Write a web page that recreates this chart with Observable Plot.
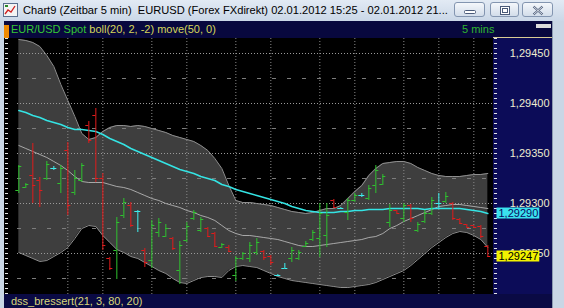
<!DOCTYPE html>
<html><head><meta charset="utf-8">
<script src="https://cdn.jsdelivr.net/npm/d3@7"></script>
<script src="https://cdn.jsdelivr.net/npm/@observablehq/plot@0.6"></script>
<style>
html,body{margin:0;padding:0;background:#c9d6e5;}
#win{position:relative;width:564px;height:308px;overflow:hidden;background:#c9d6e5;font-family:"Liberation Sans",Arial,sans-serif;}
#title{position:absolute;left:0;top:0;width:564px;height:21px;background:linear-gradient(#e2eaf4,#cad7e7);}
#title .txt{position:absolute;left:23px;top:3px;font-size:12px;line-height:14px;color:#000;white-space:pre;font-family:"Liberation Sans",Arial,sans-serif;}
#icon{position:absolute;left:3px;top:3px;width:15px;height:14px;}
.btn{position:absolute;top:2px;height:15px;border:1px solid #8395b0;border-radius:3px;background:linear-gradient(#f4f7fb,#d3ddea);box-sizing:border-box;}
.btn svg{position:absolute;left:0;top:0;}
#hdr{position:absolute;left:4px;top:21px;width:548px;height:17px;background:#08083e;}
#hdr .t{position:absolute;top:2px;font-size:11px;line-height:13px;white-space:pre;}
#plotbg{position:absolute;left:4px;top:38px;width:489px;height:256px;background:#000;}
#panel{position:absolute;left:493px;top:37px;width:59px;height:257px;background:#0c0c58;border-top:1px solid #d9cc93;box-sizing:border-box;}
#chart{position:absolute;left:4px;top:38px;}
#foot{position:absolute;left:4px;top:294px;width:548px;height:14px;background:#0a0a44;}
#foot .t{position:absolute;left:7px;top:1px;font-size:11px;line-height:13px;color:#d9d67a;white-space:pre;}
#rb{position:absolute;left:552px;top:21px;width:1px;height:287px;background:#8a9ab0;}
</style></head>
<body>
<div id="win">
  <div id="title">
    <svg id="icon" width="15" height="14"><rect x="0.5" y="0.5" width="14" height="13" fill="#f4f4f4" stroke="#5a6f8f"/><polyline points="2,11 5,7 8,9 12,3" fill="none" stroke="#d02020" stroke-width="1.3"/><rect x="2" y="2" width="3" height="2" fill="#2a8a2a"/></svg>
    <div class="txt">Chart9 (Zeitbar 5 min)  EURUSD (Forex FXdirekt) 02.01.2012 15:25 - 02.01.2012 21...</div>
    <div class="btn" style="left:454px;width:31px;"><svg width="31" height="15"><rect x="9.5" y="7.5" width="11" height="3" rx="1" fill="#fff" stroke="#4a5a78"/></svg></div>
    <div class="btn" style="left:490px;width:29px;"><svg width="29" height="15"><rect x="9.5" y="3.5" width="9" height="8" fill="#fff" stroke="#4a5a78"/><rect x="11.5" y="5.5" width="5" height="4" fill="none" stroke="#4a5a78"/></svg></div>
    <div class="btn" style="left:522px;width:31px;"><svg width="31" height="15"><path d="M10.5,3.5 L19.5,11.5 M19.5,3.5 L10.5,11.5" stroke="#4a5a78" stroke-width="2.2"/><path d="M10.5,3.5 L19.5,11.5 M19.5,3.5 L10.5,11.5" stroke="#fff" stroke-width="0.8"/></svg></div>
  </div>
  <div id="hdr">
    <div style="position:absolute;left:0;top:4px;width:5px;height:13px;background:#f08a00;"></div>
    <div class="t" style="left:7px;"><span style="color:#35c735;">EUR/USD Spot</span> <span style="color:#d6d65a;">boll(20, 2, -2) move(50, 0)</span></div>
    <div class="t" style="left:458px;color:#2fb52f;">5 mins</div>
    <div style="position:absolute;left:532px;top:3px;width:15px;height:4px;background:#dcdcdc;"></div>
  </div>
  <div id="plotbg"></div>
  <div id="panel"></div>
  <div id="chart"></div>
  <div id="foot"><div class="t">dss_bressert(21, 3, 80, 20)</div></div>
  <div id="rb"></div>
</div>
<script>
// ---- data: EURUSD 5-min bars, 02.01.2012 ----
const open  = [1.29313,1.29316,1.29328,1.29323,1.29325,1.29335,1.29320,1.29353,1.29311,1.29323,1.29378,1.29388,1.29325,1.29245,1.29253,1.29288,1.29298,1.29292,1.29253,1.29243,1.29271,1.29267,1.29265,1.29233,1.29263,1.29285,1.29273,1.29275,1.29270,1.29256,1.29256,1.29228,1.29245,1.29245,1.29251,1.29252,1.29247,1.29228,1.29235,1.29245,1.29245,1.29257,1.29264,1.29265,1.29268,1.29303,1.29295,1.29291,1.29303,1.29308,1.29305,1.29318,1.29319,1.29281,1.29293,1.29285,1.29298,1.29273,1.29282,1.29290,1.29300,1.29302,1.29300,1.29284,1.29279,1.29278,1.29277,1.29257];
const high  = [1.29338,1.29320,1.29360,1.29326,1.29342,1.29337,1.29338,1.29361,1.29333,1.29340,1.29382,1.29395,1.29330,1.29246,1.29286,1.29305,1.29301,1.29293,1.29255,1.29283,1.29285,1.29279,1.29266,1.29262,1.29281,1.29293,1.29286,1.29276,1.29271,1.29260,1.29258,1.29247,1.29251,1.29261,1.29265,1.29253,1.29248,1.29229,1.29240,1.29256,1.29253,1.29262,1.29273,1.29300,1.29300,1.29304,1.29296,1.29305,1.29310,1.29310,1.29318,1.29338,1.29329,1.29299,1.29293,1.29300,1.29299,1.29281,1.29293,1.29306,1.29310,1.29311,1.29301,1.29285,1.29279,1.29278,1.29278,1.29258];
const low   = [1.29310,1.29315,1.29300,1.29296,1.29323,1.29333,1.29310,1.29288,1.29308,1.29321,1.29360,1.29321,1.29253,1.29233,1.29224,1.29285,1.29276,1.29271,1.29236,1.29235,1.29266,1.29266,1.29253,1.29219,1.29261,1.29283,1.29271,1.29266,1.29256,1.29255,1.29251,1.29222,1.29243,1.29241,1.29248,1.29243,1.29238,1.29227,1.29235,1.29241,1.29243,1.29256,1.29262,1.29246,1.29256,1.29295,1.29294,1.29283,1.29301,1.29306,1.29303,1.29310,1.29318,1.29276,1.29290,1.29281,1.29281,1.29271,1.29280,1.29288,1.29295,1.29300,1.29283,1.29279,1.29276,1.29276,1.29265,1.29246];
const close = [1.29337,1.29319,1.29318,1.29313,1.29339,1.29335,1.29335,1.29298,1.29325,1.29338,1.29363,1.29325,1.29258,1.29235,1.29281,1.29301,1.29278,1.29292,1.29241,1.29278,1.29281,1.29275,1.29255,1.29258,1.29277,1.29291,1.29284,1.29267,1.29257,1.29259,1.29252,1.29245,1.29250,1.29258,1.29261,1.29246,1.29241,1.29228,1.29235,1.29253,1.29251,1.29260,1.29271,1.29290,1.29288,1.29296,1.29295,1.29303,1.29308,1.29308,1.29315,1.29333,1.29327,1.29293,1.29290,1.29298,1.29285,1.29279,1.29290,1.29303,1.29300,1.29307,1.29285,1.29280,1.29276,1.29276,1.29267,1.29247];
// boll(20, 2, -2)
const bollUpper  = [1.29464,1.29463,1.29461,1.29457,1.29448,1.29437,1.29419,1.29403,1.29387,1.29370,1.29364,1.29366,1.29372,1.29376,1.29378,1.29378,1.29377,1.29378,1.29377,1.29375,1.29373,1.29371,1.29368,1.29366,1.29364,1.29362,1.29358,1.29353,1.29345,1.29335,1.29318,1.29303,1.29301,1.29301,1.29300,1.29299,1.29298,1.29296,1.29294,1.29292,1.29291,1.29290,1.29291,1.29293,1.29295,1.29295,1.29298,1.29305,1.29312,1.29318,1.29328,1.29335,1.29340,1.29341,1.29342,1.29342,1.29340,1.29336,1.29333,1.29330,1.29328,1.29327,1.29327,1.29327,1.29328,1.29329,1.29329,1.29330];
const bollMiddle = [1.29358,1.29355,1.29352,1.29349,1.29346,1.29342,1.29338,1.29333,1.29327,1.29322,1.29321,1.29321,1.29321,1.29319,1.29317,1.29316,1.29314,1.29311,1.29308,1.29305,1.29303,1.29300,1.29298,1.29296,1.29293,1.29291,1.29288,1.29286,1.29283,1.29278,1.29273,1.29270,1.29268,1.29268,1.29267,1.29266,1.29265,1.29264,1.29262,1.29260,1.29258,1.29257,1.29257,1.29258,1.29259,1.29260,1.29261,1.29262,1.29263,1.29264,1.29266,1.29267,1.29270,1.29275,1.29278,1.29282,1.29285,1.29288,1.29291,1.29294,1.29297,1.29298,1.29299,1.29299,1.29298,1.29297,1.29296,1.29295];
const bollLower  = [1.29251,1.29248,1.29245,1.29242,1.29243,1.29247,1.29251,1.29256,1.29265,1.29275,1.29278,1.29277,1.29268,1.29261,1.29254,1.29251,1.29247,1.29245,1.29241,1.29237,1.29233,1.29230,1.29225,1.29221,1.29220,1.29223,1.29226,1.29227,1.29227,1.29226,1.29233,1.29237,1.29238,1.29237,1.29236,1.29233,1.29230,1.29227,1.29225,1.29223,1.29222,1.29221,1.29220,1.29219,1.29218,1.29217,1.29216,1.29216,1.29217,1.29218,1.29219,1.29221,1.29224,1.29227,1.29230,1.29233,1.29238,1.29244,1.29250,1.29256,1.29261,1.29266,1.29270,1.29272,1.29271,1.29268,1.29264,1.29256];
// move(50, 0)
const move50 = [1.29393,1.29391,1.29388,1.29386,1.29383,1.29381,1.29379,1.29376,1.29374,1.29374,1.29373,1.29372,1.29369,1.29365,1.29362,1.29359,1.29355,1.29352,1.29349,1.29346,1.29343,1.29340,1.29337,1.29334,1.29332,1.29330,1.29327,1.29325,1.29323,1.29319,1.29317,1.29314,1.29312,1.29310,1.29308,1.29306,1.29304,1.29302,1.29300,1.29297,1.29295,1.29293,1.29292,1.29291,1.29291,1.29291,1.29292,1.29292,1.29293,1.29293,1.29294,1.29294,1.29294,1.29295,1.29295,1.29295,1.29295,1.29295,1.29294,1.29295,1.29295,1.29295,1.29295,1.29295,1.29294,1.29293,1.29292,1.29290];
// axis ticks / grid
const priceLabels = [1.2925, 1.2930, 1.2935, 1.2940, 1.2945];
const halfLevels  = [1.29225, 1.29275, 1.29325, 1.29375, 1.29425];
const timeGrid    = [7, 12, 19, 24, 31, 36, 43, 48, 55, 60, 65]; // bar indices of time gridlines
const minorTicks  = d3.range(1.29210, 1.29466, 0.00005).map(v => +v.toFixed(5));
const lastValues  = [{v: 1.29290, bg: "#3ae2ee", ink: "#0a0a60"}, {v: 1.29247, bg: "#f2f200", ink: "#000000"}];

// fit the window title into its bar
const tt = document.querySelector("#title .txt");
tt.style.fontSize = (12 * 425 / tt.getBoundingClientRect().width).toFixed(2) + "px";

const GREEN = "#2fc22f", RED = "#e01c1c", CYAN = "#3ef0f0";
const idx = d3.range(open.length);
const bars = idx.map(i => ({i, o: open[i], h: high[i], l: low[i], c: close[i]}));
const bands = idx.map(i => ({i, up: bollUpper[i], mid: bollMiddle[i], lo: bollLower[i], ma: move50[i]}));
const colorOf = d => d.c > d.o ? GREEN : d.c < d.o ? RED : CYAN;
const fmt = v => d3.format(".5f")(v).replace(".", ",");
const TICK = 0.43;

const chart = Plot.plot({
  width: 548, height: 256,
  marginLeft: 13, marginRight: 59, marginTop: 0, marginBottom: 0,
  x: {domain: [-0.19, open.length - 0.19], axis: null},
  y: {domain: [1.29209, 1.29465], axis: null},
  color: {type: "identity"},
  style: {background: "transparent", overflow: "visible", fontFamily: "Liberation Sans, Arial, sans-serif"},
  marks: [
    Plot.areaY(bands, {x: "i", y1: "lo", y2: "up", fill: "#3e3e3e"}),
    Plot.line(bands, {x: "i", y: "up", stroke: "#8f8f8f", strokeWidth: 1}),
    Plot.line(bands, {x: "i", y: "lo", stroke: "#8f8f8f", strokeWidth: 1}),
    Plot.ruleY(priceLabels, {stroke: "#9a9a9a", strokeDasharray: "1,2"}),
    Plot.ruleY(halfLevels, {stroke: "#7c7c7c", strokeDasharray: "4,11"}),
    Plot.ruleX(timeGrid, {stroke: "#8a8a8a", strokeDasharray: "1,2"}),
    Plot.line(bands, {x: "i", y: "mid", stroke: "#a8a8a8", strokeWidth: 1}),
    Plot.line(bands, {x: "i", y: "ma", stroke: "#34e4e4", strokeWidth: 1.5}),
    Plot.ruleX(bars, {x: "i", y1: "l", y2: "h", stroke: colorOf}),
    Plot.ruleY(bars, {y: "o", x1: d => d.i - TICK, x2: "i", stroke: colorOf}),
    Plot.ruleY(bars, {y: "c", x1: "i", x2: d => d.i + TICK, stroke: colorOf}),
    Plot.axisY(minorTicks, {anchor: "left", tickSize: 3, dx: -9, stroke: "#e6e6e6", tickFormat: () => "", label: null}),
    Plot.axisY(minorTicks, {anchor: "right", tickSize: 3, stroke: "#e6e6e6", tickFormat: () => "", label: null}),
    Plot.text(priceLabels, {y: d => d, text: fmt, frameAnchor: "right", dx: 56, textAnchor: "end", fill: "#efecd0", fontSize: 11}),
    Plot.text(lastValues, {y: "v", text: d => fmt(d.v), frameAnchor: "right", dx: 5, textAnchor: "start", fill: "ink", fontSize: 11, className: "badge"})
  ]
});
document.getElementById("chart").append(chart);

// badge backgrounds behind the last-value labels
const svgEl = chart.tagName.toLowerCase() === "svg" ? chart : chart.querySelector("svg");
const sb = svgEl.getBoundingClientRect();
const badgeTexts = lastValues.map(d => fmt(d.v));
d3.select(svgEl).selectAll("text").filter(function() { return badgeTexts.includes(this.textContent); })
  .each(function() {
    const t = this.getBoundingClientRect();
    const k = badgeTexts.indexOf(this.textContent);
    const g = this.parentNode;
    d3.select(g.parentNode).insert("rect", () => g)
      .attr("x", t.left - sb.left - 2).attr("y", t.top - sb.top + 0.5)
      .attr("width", t.width + 3).attr("height", t.height - 1)
      .attr("fill", lastValues[k].bg);
  });
</script>
</body></html>
